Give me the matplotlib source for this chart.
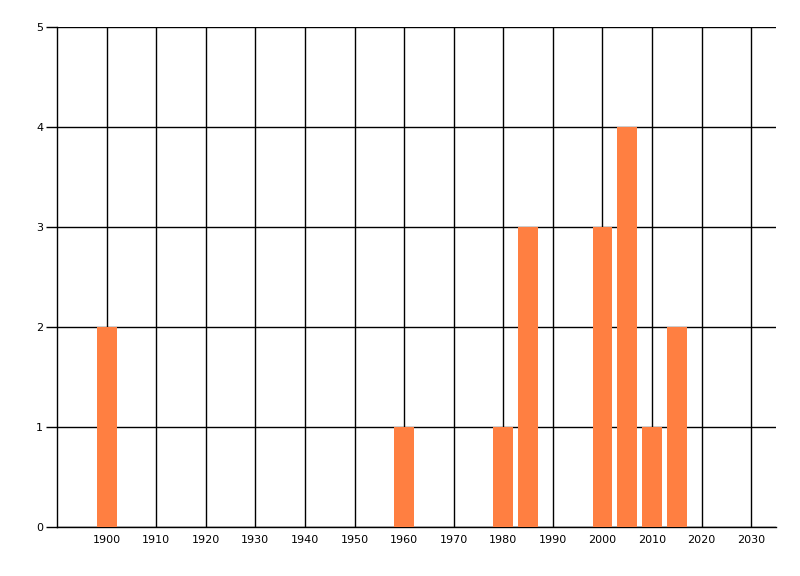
import matplotlib
matplotlib.use("Agg")
import matplotlib.pyplot as plt

years = [1900, 1960, 1980, 1985, 2000, 2005, 2010, 2015]
counts = [2, 1, 1, 3, 3, 4, 1, 2]
x_ticks = list(range(1900, 2031, 10))
y_ticks = [0, 1, 2, 3, 4, 5]

fig = plt.figure(figsize=(8, 5.76), dpi=100)
ax = fig.add_axes([57 / 800, 1 - 527 / 576, (776 - 57) / 800, 500 / 576])

ax.bar(years, counts, width=4, color="#FF7F41", zorder=3)

ax.set_xlim(1890, 2035)
ax.set_ylim(0, 5)
ax.set_xticks(x_ticks)
ax.set_yticks(y_ticks)
ax.grid(True, color="black", linewidth=1)
ax.set_axisbelow(True)

for s in ["top", "right"]:
    ax.spines[s].set_visible(False)
ax.spines["left"].set_linewidth(1)
ax.spines["bottom"].set_linewidth(1)

ax.tick_params(axis="x", length=0, labelsize=8, pad=6)
ax.tick_params(axis="y", length=8, width=1, labelsize=8, pad=2)

fig.savefig("out.png", dpi=100)
